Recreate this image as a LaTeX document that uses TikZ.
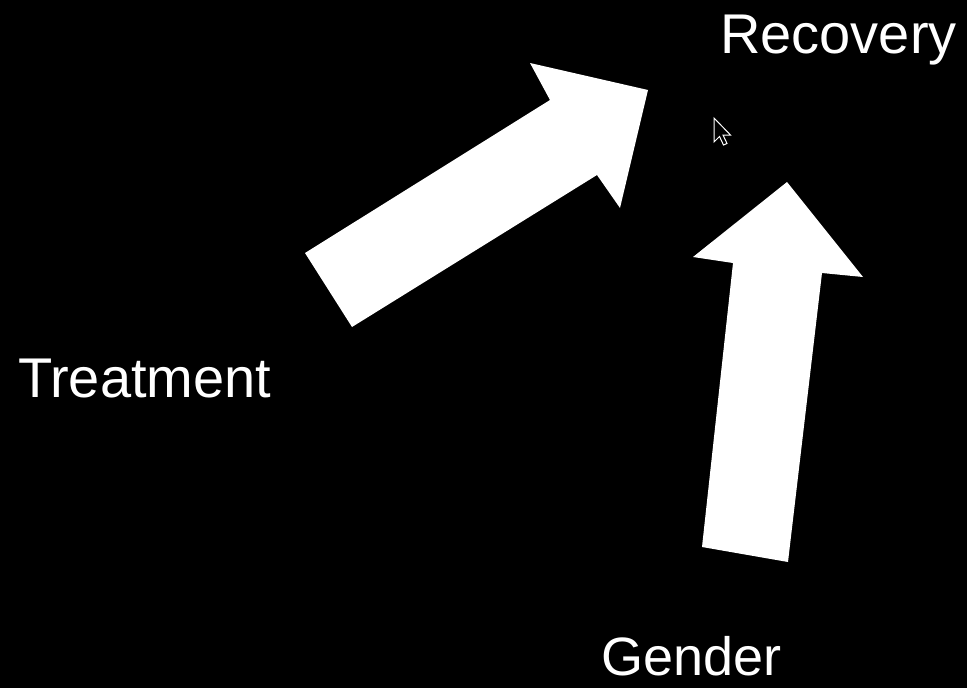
\documentclass[tikz,border=0pt]{standalone}
\usepackage{fontspec}
\setmainfont{Liberation Sans}
\usepackage{tikz}
\definecolor{bg}{HTML}{000000}
\definecolor{fg}{HTML}{FFFFFF}
\tikzset{
  label/.style={anchor=base west, text=fg, inner sep=0pt,
    font=\fontsize{56}{67}\selectfont},
  blockarrow/.style={fill=fg, draw=none}
}

\begin{document}
\begin{tikzpicture}[x=1pt, y=-1pt]
      % background
      \fill[bg] (0,0) rectangle (967,688);
      \useasboundingbox (0,0) rectangle (967,688);
      % variables
      \node[label] (recovery) at (720,53) {Recovery};
      \node[label] (treatment) at (18,397) {Treatment};
      \node[label, font=\fontsize{54}{65}\selectfont] (gender) at (601,675) {Gender};
      % treatment -> recovery
      \fill[blockarrow] (305,253) -- (550,100) -- (530,63) -- (648,90)
        -- (620,208) -- (597,175) -- (352,327) -- cycle;
      % gender -> recovery
      \fill[blockarrow] (702,547) -- (733,263) -- (693,257) -- (787,182)
        -- (863,277) -- (822,273) -- (788,562) -- cycle;
      % mouse pointer
      \draw[fg, fill=bg, line width=1pt, line join=miter]
        (714,118) -- (714,142) -- (719.5,136.5) -- (723.5,145) -- (727,143.5)
        -- (723,135) -- (730.5,135) -- cycle;
    \end{tikzpicture}
\end{document}
